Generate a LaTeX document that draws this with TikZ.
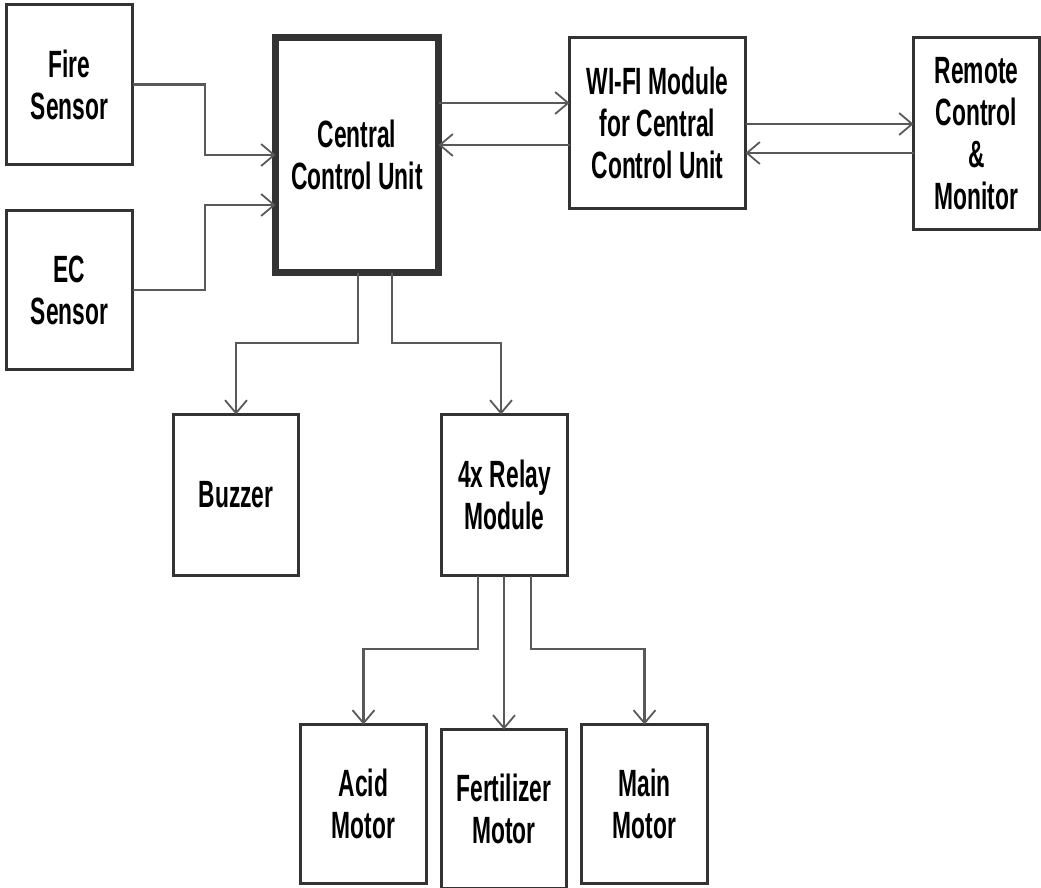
\documentclass[tikz,border=0pt]{standalone}
\usepackage{fontspec}
\setmainfont{Liberation Sans}[FakeStretch=0.6]
\usetikzlibrary{arrows.meta}
\definecolor{boxc}{HTML}{333333}
\definecolor{wirec}{HTML}{595959}
\tikzset{
  blk/.style={draw=boxc, line width=3pt, fill=white, align=center,
    font=\bfseries\fontsize{38}{42}\selectfont, inner sep=0pt, outer sep=0pt},
  wire/.style={draw=wirec, line width=2.4pt},
  arr/.style={wire, -{Straight Barb[length=13pt,width=22pt,line width=1.8pt]}}
}
\begin{document}
\begin{tikzpicture}[x=1pt,y=-1pt]
\useasboundingbox (0,0) rectangle (1041,888);
\clip (0,0) rectangle (1041,888);
% boxes
\node[blk, minimum width=126pt, minimum height=160pt] (fire) at (69.5,84.5) {Fire\\Sensor};
\node[blk, minimum width=126pt, minimum height=159pt] (ec) at (69.5,290) {EC\\Sensor};
\node[blk, line width=7pt, minimum width=163pt, minimum height=235pt] (ccu) at (357,155) {Central\\Control Unit};
\node[blk, minimum width=176pt, minimum height=171pt] (wifi) at (657.5,123) {WI-FI Module\\for Central\\Control Unit};
\node[blk, minimum width=126pt, minimum height=192pt] (remote) at (976.5,133.5) {Remote\\Control\\\&\\Monitor};
\node[blk, minimum width=125pt, minimum height=161pt] (buzzer) at (236,495) {Buzzer};
\node[blk, minimum width=126pt, minimum height=161pt] (relay) at (504.5,495) {4x Relay\\Module};
\node[blk, minimum width=126pt, minimum height=159pt] (acid) at (363.5,804) {Acid\\Motor};
\node[blk, minimum width=125pt, minimum height=159pt] (fert) at (504,809) {Fertilizer\\Motor};
\node[blk, minimum width=126pt, minimum height=159pt] (main) at (644.5,804) {Main\\Motor};
% sensors to CCU
\draw[arr] (fire.east) -- (205,84.5) -- (205,155) -- (ccu.west |- 0,155);
\draw[arr] (ec.east) -- (205,290) -- (205,205) -- (ccu.west |- 0,205);
% CCU <-> WiFi
\draw[arr] (ccu.east |- 0,103) -- (wifi.west |- 0,103);
\draw[arr] (wifi.west |- 0,145) -- (ccu.east |- 0,145);
% WiFi <-> Remote
\draw[arr] (wifi.east |- 0,124) -- (remote.west |- 0,124);
\draw[arr] (remote.west |- 0,153) -- (wifi.east |- 0,153);
% CCU to buzzer and relay
\draw[arr] (ccu.south -| 358,0) -- (358,343) -| (buzzer.north);
\draw[arr] (ccu.south -| 392,0) -- (392,343) -| (relay.north -| 501,0);
% relay to motors
\draw[arr] (relay.south -| 478,0) -- (478,649) -| (acid.north);
\draw[arr] (relay.south -| 504,0) -- (fert.north);
\draw[arr] (relay.south -| 531,0) -- (531,649) -| (main.north);
\end{tikzpicture}
\end{document}
